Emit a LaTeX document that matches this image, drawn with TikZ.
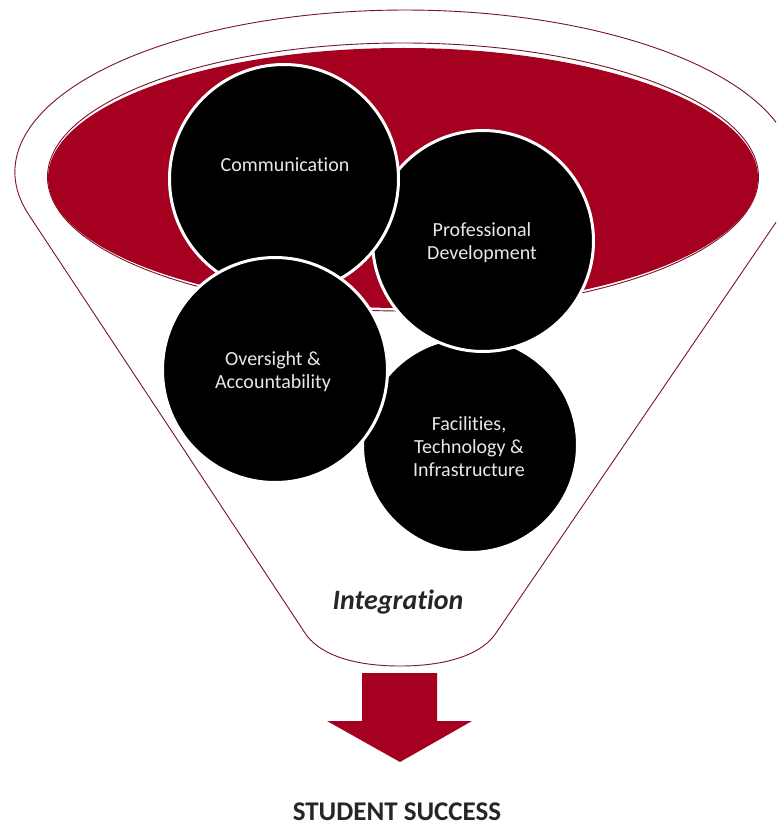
\documentclass[tikz,border=0pt]{standalone}
\usepackage{fontspec}
\setmainfont{Carlito}[Ligatures=NoCommon]
\definecolor{funred}{RGB}{166,0,32}
\definecolor{rimline}{RGB}{120,20,40}
\definecolor{circtext}{RGB}{232,232,232}
\begin{document}
\begin{tikzpicture}[x=1pt,y=-1pt,
  ball/.style={fill=black,draw=white,line width=3pt},
  balltext/.style={text=circtext,align=center,font=\fontsize{20}{23}\selectfont,inner sep=0pt},
  rim/.style={draw=rimline,line width=0.9pt}]
\useasboundingbox (0,0) rectangle (776,826);
\clip (0,0) rectangle (776,826);
% funnel outline
\path[rim,fill=white] (28.8,214.8) arc[start angle=164.7,end angle=375.8,x radius=390,y radius=162]
  -- (496,633) .. controls (483,653) and (450,666) .. (400,666)
  .. controls (350,666) and (318,653) .. (305,633) -- cycle;
% rim and red ellipse
\draw[rim] (403,177) ellipse[x radius=355.5,y radius=134];
\fill[funred] (403,178) ellipse[x radius=355,y radius=130];
% circles
\draw[ball] (470,445) circle[radius=107.5];
\draw[ball] (483,241) circle[radius=110.5];
\draw[ball] (284,179) circle[radius=114.5];
\draw[ball] (275,370) circle[radius=112.5];
\node[balltext] (fac) at (469,447) {Facilities,\\Technology \&\\Infrastructure};
\node[balltext] (pd) at (482,243) {Professional\\Development};
\node[balltext] (com) at (285,165) {Communication};
\node[balltext] (ovs) at (273,372) {Oversight \&\\Accountability};
% integration
\node[font=\fontsize{28}{30}\selectfont\bfseries\itshape,text=black!85] (integ) at (398,602) {Integration};
% arrow
\fill[funred] (362,673) -- (437,673) -- (437,721) -- (472,721) -- (400,762) -- (327,721) -- (362,721) -- cycle;
\node[font=\fontsize{27}{30}\selectfont\bfseries,text=black!85] (ss) at (397,812) {STUDENT SUCCESS};
\end{tikzpicture}
\end{document}
